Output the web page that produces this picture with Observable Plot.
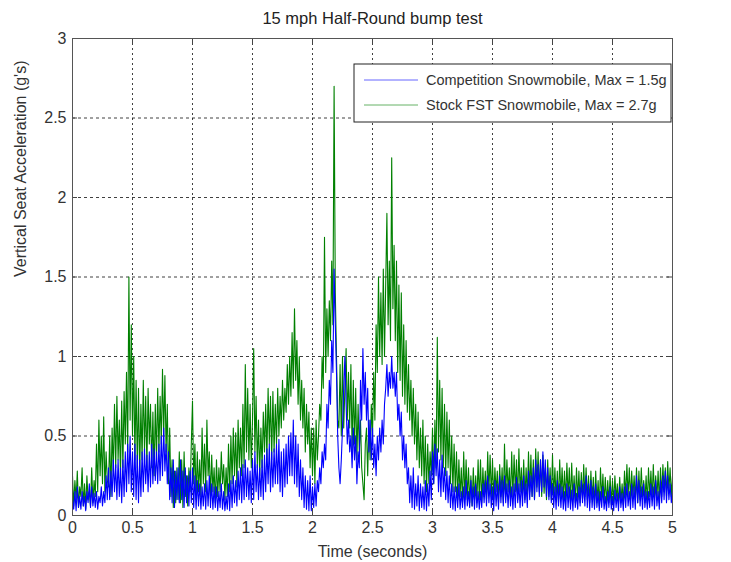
<!DOCTYPE html>
<html><head><meta charset="utf-8">
<script src="https://cdn.jsdelivr.net/npm/d3@7"></script>
<script src="https://cdn.jsdelivr.net/npm/@observablehq/plot@0.6"></script>
<style>body{margin:0;background:#fff;}</style>
</head><body><div id="chart"></div>
<script>
// sampling interval (seconds)
const dt = 0.01;
// Stock FST Snowmobile (green), one row = 0.1 s
const stock = [
0.25,0.06,0.22,0.10,0.28,0.05,0.18,0.12,0.30,0.06,
0.20,0.04,0.25,0.10,0.15,0.06,0.30,0.08,0.22,0.12,
0.45,0.15,0.60,0.25,0.50,0.20,0.62,0.15,0.40,0.22,
0.18,0.50,0.12,0.55,0.28,0.70,0.30,0.75,0.35,0.60,
0.25,0.72,0.30,0.78,0.45,0.90,0.40,1.50,0.60,1.20,
0.50,1.00,0.35,0.85,0.30,0.80,0.25,0.70,0.35,0.85,
0.40,0.75,0.30,0.80,0.45,0.70,0.30,0.65,0.25,0.70,
0.35,0.80,0.40,0.75,0.45,0.92,0.50,0.88,0.40,0.70,
0.20,0.55,0.12,0.35,0.05,0.28,0.08,0.30,0.10,0.40,
0.08,0.35,0.05,0.40,0.12,0.25,0.06,0.30,0.15,0.45,
0.72,0.20,0.45,0.10,0.40,0.15,0.35,0.12,0.55,0.20,
0.45,0.15,0.60,0.25,0.40,0.10,0.38,0.15,0.30,0.08,
0.35,0.12,0.30,0.15,0.40,0.20,0.32,0.10,0.30,0.12,
0.45,0.15,0.50,0.20,0.55,0.25,0.52,0.18,0.60,0.30,
0.55,0.25,0.70,0.30,0.95,0.40,0.80,0.35,0.70,0.30,
0.60,1.05,0.40,0.75,0.30,0.60,0.25,0.55,0.30,0.65,
0.40,0.70,0.35,0.80,0.45,0.75,0.35,0.78,0.40,0.70,
0.45,0.80,0.50,0.75,0.55,0.85,0.60,0.80,0.65,0.95,
0.70,1.00,0.75,1.15,0.80,1.30,0.85,1.10,0.70,1.00,
0.60,0.85,0.55,0.80,0.40,0.70,0.45,0.65,0.30,0.55,
0.25,0.55,0.20,0.60,0.35,0.50,0.70,0.60,1.00,0.80,
1.75,0.90,1.30,1.00,1.35,1.10,1.60,1.20,2.70,1.40,
1.00,0.60,0.55,0.95,0.50,1.00,0.55,0.80,1.05,0.60,
0.90,0.55,0.95,0.40,0.85,0.45,0.80,0.35,0.70,0.40,
0.60,0.30,0.20,0.10,0.45,0.55,0.25,0.60,0.35,0.70,
0.50,0.90,0.60,1.20,0.90,1.50,1.00,1.40,0.95,1.55,
1.00,1.45,1.90,1.20,1.60,1.10,2.25,1.30,1.70,1.10,
1.60,0.90,1.45,0.85,1.40,0.75,1.20,0.70,1.10,0.65,
0.95,0.60,0.85,0.50,0.80,0.45,0.70,0.35,0.65,0.30,
0.55,0.25,0.60,0.20,0.50,0.15,0.45,0.20,0.40,0.25,
0.55,0.20,0.60,0.30,1.12,0.40,0.85,0.35,0.80,0.30,
0.70,0.25,0.65,0.30,0.60,0.20,0.50,0.15,0.45,0.15,
0.40,0.10,0.35,0.12,0.30,0.08,0.40,0.10,0.35,0.10,
0.30,0.08,0.25,0.06,0.30,0.10,0.25,0.08,0.35,0.10,
0.35,0.08,0.30,0.12,0.28,0.10,0.40,0.15,0.38,0.12,
0.35,0.10,0.30,0.15,0.28,0.08,0.32,0.12,0.30,0.08,
0.45,0.12,0.35,0.15,0.30,0.10,0.40,0.12,0.38,0.15,
0.35,0.10,0.42,0.15,0.30,0.12,0.35,0.10,0.30,0.12,
0.40,0.15,0.38,0.12,0.35,0.10,0.42,0.18,0.40,0.15,
0.35,0.12,0.38,0.14,0.30,0.10,0.35,0.12,0.30,0.10,
0.38,0.12,0.30,0.10,0.28,0.08,0.35,0.12,0.30,0.10,
0.28,0.10,0.33,0.12,0.30,0.08,0.33,0.10,0.25,0.08,
0.30,0.10,0.28,0.08,0.27,0.10,0.32,0.12,0.30,0.10,
0.25,0.08,0.28,0.10,0.24,0.06,0.28,0.08,0.22,0.06,
0.30,0.10,0.26,0.08,0.24,0.07,0.22,0.08,0.25,0.07,
0.22,0.08,0.25,0.10,0.20,0.07,0.24,0.08,0.20,0.07,
0.28,0.12,0.32,0.12,0.30,0.10,0.28,0.12,0.25,0.10,
0.30,0.08,0.28,0.10,0.30,0.12,0.22,0.08,0.25,0.08,
0.30,0.12,0.28,0.10,0.32,0.12,0.25,0.10,0.28,0.08,
0.30,0.12,0.32,0.15,0.30,0.12,0.34,0.15,0.30,0.12,
0.25];
// Competition Snowmobile (blue), one row = 0.1 s
const competition = [
0.10,0.04,0.15,0.03,0.18,0.05,0.12,0.04,0.15,0.06,
0.12,0.03,0.15,0.08,0.20,0.05,0.18,0.06,0.14,0.05,
0.15,0.04,0.12,0.08,0.18,0.06,0.15,0.08,0.25,0.10,
0.30,0.10,0.28,0.12,0.35,0.15,0.32,0.10,0.35,0.12,
0.30,0.08,0.35,0.12,0.40,0.15,0.45,0.20,0.50,0.15,
0.40,0.12,0.45,0.10,0.38,0.08,0.35,0.12,0.40,0.15,
0.42,0.20,0.38,0.15,0.40,0.18,0.45,0.20,0.42,0.22,
0.40,0.20,0.45,0.22,0.50,0.25,0.55,0.28,0.45,0.20,
0.40,0.10,0.30,0.08,0.35,0.05,0.28,0.10,0.30,0.08,
0.35,0.10,0.28,0.05,0.30,0.08,0.25,0.06,0.28,0.08,
0.30,0.05,0.25,0.04,0.22,0.06,0.20,0.04,0.18,0.06,
0.20,0.04,0.22,0.06,0.25,0.05,0.20,0.04,0.18,0.05,
0.18,0.03,0.15,0.05,0.20,0.04,0.15,0.03,0.12,0.04,
0.20,0.03,0.22,0.05,0.25,0.08,0.22,0.06,0.28,0.10,
0.30,0.08,0.32,0.10,0.35,0.12,0.30,0.10,0.28,0.08,
0.35,0.10,0.40,0.15,0.32,0.10,0.30,0.12,0.35,0.10,
0.38,0.15,0.42,0.20,0.45,0.15,0.40,0.18,0.42,0.20,
0.45,0.20,0.48,0.15,0.40,0.12,0.42,0.18,0.45,0.20,
0.50,0.25,0.52,0.25,0.60,0.20,0.50,0.18,0.45,0.12,
0.35,0.10,0.30,0.05,0.25,0.04,0.22,0.03,0.25,0.03,
0.18,0.05,0.20,0.06,0.22,0.15,0.30,0.20,0.40,0.30,
0.45,0.35,0.70,0.55,0.85,0.70,1.10,0.90,1.55,1.20,
0.90,0.50,0.30,0.20,0.35,0.55,0.80,1.00,0.70,0.45,
0.60,0.40,0.50,0.30,0.55,0.35,0.50,0.20,0.40,0.30,
0.85,0.60,1.05,0.70,0.90,0.60,0.80,0.40,0.60,0.35,
0.55,0.30,0.45,0.25,0.50,0.35,0.55,0.40,0.60,0.45,
0.70,0.80,0.95,0.75,0.90,0.80,1.00,0.80,0.90,0.75,
0.90,0.60,0.70,0.50,0.65,0.35,0.50,0.30,0.45,0.20,
0.30,0.08,0.25,0.05,0.30,0.04,0.20,0.06,0.25,0.03,
0.20,0.05,0.18,0.04,0.22,0.03,0.20,0.06,0.28,0.10,
0.40,0.20,0.45,0.25,0.42,0.15,0.35,0.12,0.38,0.15,
0.30,0.10,0.28,0.08,0.25,0.05,0.20,0.04,0.18,0.03,
0.18,0.05,0.20,0.04,0.15,0.05,0.18,0.04,0.22,0.06,
0.15,0.05,0.22,0.06,0.18,0.04,0.20,0.05,0.15,0.04,
0.15,0.05,0.20,0.08,0.22,0.06,0.25,0.08,0.20,0.05,
0.18,0.03,0.22,0.06,0.20,0.04,0.25,0.08,0.22,0.06,
0.25,0.08,0.20,0.05,0.22,0.06,0.18,0.04,0.20,0.05,
0.24,0.08,0.20,0.05,0.22,0.06,0.25,0.08,0.20,0.05,
0.28,0.10,0.25,0.12,0.30,0.10,0.35,0.15,0.32,0.12,
0.35,0.15,0.40,0.18,0.35,0.12,0.30,0.10,0.25,0.08,
0.20,0.05,0.18,0.04,0.22,0.06,0.20,0.05,0.18,0.04,
0.15,0.03,0.20,0.05,0.18,0.04,0.16,0.03,0.20,0.05,
0.14,0.04,0.18,0.06,0.22,0.08,0.20,0.06,0.25,0.05,
0.20,0.03,0.22,0.05,0.18,0.04,0.20,0.05,0.15,0.03,
0.15,0.05,0.18,0.04,0.12,0.03,0.15,0.05,0.18,0.04,
0.12,0.03,0.16,0.05,0.14,0.03,0.18,0.05,0.14,0.03,
0.18,0.05,0.20,0.06,0.15,0.04,0.20,0.05,0.18,0.04,
0.25,0.08,0.22,0.06,0.18,0.04,0.20,0.05,0.15,0.04,
0.15,0.05,0.20,0.06,0.18,0.04,0.22,0.06,0.15,0.04,
0.22,0.08,0.25,0.10,0.28,0.08,0.25,0.10,0.20,0.08,
0.15];
const xTicks = [0,0.5,1,1.5,2,2.5,3,3.5,4,4.5,5];
const yTicks = [0,0.5,1,1.5,2,2.5,3];
const titleText = "15 mph Half-Round bump test";
const xLabel = "Time (seconds)";
const yLabel = "Vertical Seat Acceleration (g's)";
const seriesNames = ["Competition Snowmobile, Max = 1.5g", "Stock FST Snowmobile, Max = 2.7g"];
const seriesColors = ["#0000ff", "#008000"];

const stockRows = stock.map((v, i) => ({t: i * dt, v}));
const compRows = competition.map((v, i) => ({t: i * dt, v}));

const W = 731, H = 562, mL = 72, mR = 59, mT = 38, mB = 47;
const innerW = W - mL - mR, innerH = H - mT - mB, tk = 5;
const font = "'Liberation Sans', Arial, Helvetica, sans-serif";

const plot = Plot.plot({
  width: W, height: H,
  marginLeft: mL, marginRight: mR, marginTop: mT, marginBottom: mB,
  style: {fontFamily: font, fontSize: "16px", color: "#333", background: "#fff"},
  x: {domain: [0, 5]},
  y: {domain: [0, 3]},
  marks: [
    Plot.gridX(xTicks.slice(1, -1), {stroke: "#000", strokeOpacity: 0.75, strokeDasharray: "2,3"}),
    Plot.gridY(yTicks.slice(1, -1), {stroke: "#000", strokeOpacity: 0.75, strokeDasharray: "3,3"}),
    Plot.line(stockRows, {x: "t", y: "v", stroke: seriesColors[1], strokeWidth: 1.1}),
    Plot.line(compRows, {x: "t", y: "v", stroke: seriesColors[0], strokeWidth: 1.1}),
    Plot.tickX(xTicks, {x: d => d, insetTop: innerH - tk, stroke: "#444"}),
    Plot.tickX(xTicks, {x: d => d, insetBottom: innerH - tk, stroke: "#444"}),
    Plot.tickY(yTicks, {y: d => d, insetRight: innerW - tk, stroke: "#444"}),
    Plot.tickY(yTicks, {y: d => d, insetLeft: innerW - tk, stroke: "#444"}),
    Plot.frame({stroke: "#555"}),
    Plot.axisX(xTicks, {tickSize: 0, tickPadding: 6, label: null, fontSize: 16, tickFormat: d => String(d)}),
    Plot.axisY(yTicks, {tickSize: 0, tickPadding: 6, label: null, fontSize: 16, tickFormat: d => String(d)}),
    Plot.text([titleText], {frameAnchor: "top", dy: -20, lineAnchor: "middle", fontSize: 16.5, fill: "#222"}),
    Plot.text([xLabel], {frameAnchor: "bottom", dy: 36, lineAnchor: "middle", fontSize: 16, fill: "#333"}),
    Plot.text([yLabel], {frameAnchor: "left", dx: -52, rotate: -90, lineAnchor: "middle", fontSize: 16, fill: "#333"})
  ]
});
document.getElementById("chart").appendChild(plot);

// legend box (MATLAB style, inside the axes, top-right)
const svg = d3.select(plot);
const lg = svg.append("g").attr("font-family", font).attr("font-size", 14.5).attr("text-anchor", "start");
const boxL = 354, boxT = 64, boxR = W - mR - 1, boxB = 122;
lg.append("rect").attr("x", boxL).attr("y", boxT).attr("width", boxR - boxL).attr("height", boxB - boxT)
  .attr("fill", "#fff").attr("stroke", "#222");
seriesNames.forEach((name, i) => {
  const yy = boxT + 16 + i * 25;
  lg.append("line").attr("x1", 364).attr("x2", 418).attr("y1", yy).attr("y2", yy)
    .attr("stroke", seriesColors[i]).attr("stroke-opacity", 0.6);
  lg.append("text").attr("x", 426).attr("y", yy).attr("dy", "0.35em").attr("text-anchor", "start")
    .attr("fill", "#333").text(name);
});
</script>
</body></html>
